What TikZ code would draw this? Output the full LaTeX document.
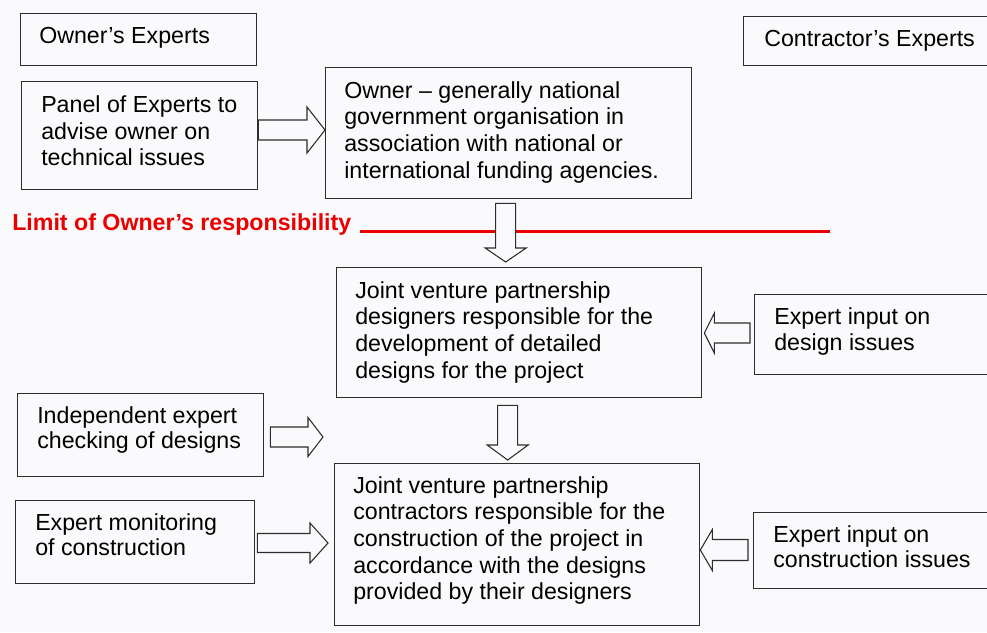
\documentclass[tikz,border=0pt]{standalone}
\usepackage{fontspec}
\setmainfont{Liberation Sans}
\usetikzlibrary{calc}
\definecolor{bg}{RGB}{250,250,252}
\definecolor{edge}{RGB}{45,45,45}
\definecolor{limitred}{RGB}{235,0,0}
\tikzset{
  box/.style={draw=edge, line width=1pt, fill=bg, anchor=north west, inner sep=0pt},
  boxat/.style n args={4}{box, minimum width={(#3-#1)*0.75pt}, minimum height={(#4-#2)*0.75pt}, at={(#1,#2)}},
  txt/.style={anchor=north west, inner sep=0pt, align=left, text=black, font=\fontsize{17.4}{20}\selectfont},
  txtb/.style={txt, font=\fontsize{17.4}{19}\selectfont},
  barrow/.style={draw=edge, line width=0.8pt, fill=bg, line join=miter},
  limitline/.style={draw=limitred, line width=2.25pt},
}
% right-pointing block arrow: start, tip, shaft half, head half, head length (px)
\newcommand{\rblock}[5]{%
  \filldraw[barrow] let \p1=(#1), \p2=(#2) in
    (\x1,{\y1+#3*0.75pt}) -- ({\x2-#5*0.75pt},{\y1+#3*0.75pt}) -- ({\x2-#5*0.75pt},{\y1+#4*0.75pt})
    -- (\x2,\y1) -- ({\x2-#5*0.75pt},{\y1-#4*0.75pt}) -- ({\x2-#5*0.75pt},{\y1-#3*0.75pt})
    -- (\x1,{\y1-#3*0.75pt}) -- cycle;}
\newcommand{\lblock}[5]{%
  \filldraw[barrow] let \p1=(#1), \p2=(#2) in
    (\x1,{\y1+#3*0.75pt}) -- ({\x2+#5*0.75pt},{\y1+#3*0.75pt}) -- ({\x2+#5*0.75pt},{\y1+#4*0.75pt})
    -- (\x2,\y1) -- ({\x2+#5*0.75pt},{\y1-#4*0.75pt}) -- ({\x2+#5*0.75pt},{\y1-#3*0.75pt})
    -- (\x1,{\y1-#3*0.75pt}) -- cycle;}
\newcommand{\dblock}[5]{%
  \filldraw[barrow] let \p1=(#1), \p2=(#2) in
    ({\x1-#3*0.75pt},\y1) -- ({\x1-#3*0.75pt},{\y2+#5*0.75pt}) -- ({\x1-#4*0.75pt},{\y2+#5*0.75pt})
    -- (\x1,\y2) -- ({\x1+#4*0.75pt},{\y2+#5*0.75pt}) -- ({\x1+#3*0.75pt},{\y2+#5*0.75pt})
    -- ({\x1+#3*0.75pt},\y1) -- cycle;}
\begin{document}
\begin{tikzpicture}[x=0.75pt, y=-0.75pt]
\useasboundingbox (0,0) rectangle (987,632);
\fill[bg] (0,0) rectangle (987,632);

% boxes
\node[boxat={20}{13}{256}{65}] (oexp) {};
\node[boxat={21}{81}{257}{189}] (panel) {};
\node[boxat={325}{67}{691}{198}] (owner) {};
\node[boxat={743}{16}{995}{65}] (cexp) {};
\node[boxat={336}{267}{701}{397}] (jvd) {};
\node[boxat={754}{294}{995}{374}] (edes) {};
\node[boxat={17}{393}{263}{476}] (indep) {};
\node[boxat={15}{500}{254}{583}] (monit) {};
\node[boxat={334}{463}{699}{625}] (jvc) {};
\node[boxat={753}{512}{995}{588}] (econ) {};

% limit of responsibility
\node[anchor=base west, inner sep=0pt, text=limitred, font=\bfseries\fontsize{17.4}{20}\selectfont] (limit) at (12,230) {Limit of Owner’s responsibility};
\coordinate (ls) at ($(limit.base east)+(8,1)$);
\coordinate (le) at (830,231);
\draw[limitline] (ls) -- (le |- ls);

% block arrows
\coordinate (a1s) at (panel.east |- 0,130);
\coordinate (a1e) at (owner.west |- 0,130);
\rblock{a1s}{a1e}{10}{23}{18}

\coordinate (a2s) at ($(owner.south)+(-3,4)$);
\coordinate (a2e) at ($(jvd.north)+(0,-5)$);
\dblock{a2s}{a2e}{10}{20.5}{14}

\coordinate (a3s) at ($(edes.west |- 0,333)+(-4,0)$);
\coordinate (a3e) at ($(jvd.east |- 0,333)+(2,0)$);
\lblock{a3s}{a3e}{10}{20}{10}

\coordinate (a4s) at ($(jvd.south)+(-11.5,7)$);
\coordinate (a4e) at ($(jvc.north)+(0,-3)$);
\dblock{a4s}{a4e}{10}{20.5}{15}

\coordinate (a5s) at ($(indep.east |- 0,437)+(6,0)$);
\coordinate (a5e) at (323,437);
\rblock{a5s}{a5e}{10}{19.5}{15}

\coordinate (a6s) at ($(monit.east |- 0,543)+(2,0)$);
\coordinate (a6e) at (328,543);
\rblock{a6s}{a6e}{9.5}{20}{18}

\coordinate (a7s) at ($(econ.west |- 0,550)+(-5,0)$);
\coordinate (a7e) at (jvc.east |- 0,550);
\lblock{a7s}{a7e}{10.5}{20.5}{12}

% texts
\node[txt] (t-oexp) at ($(oexp.north west)+(19,14)$) {Owner’s Experts};
\node[txt] (t-panel) at ($(panel.north west)+(20,14.5)$) {Panel of Experts to\\advise owner on\\technical issues};
\node[txt] (t-owner) at ($(owner.north west)+(19,14)$) {Owner – generally national\\government organisation in\\association with national or\\international funding agencies.};
\node[txt] (t-cexp) at ($(cexp.north west)+(21,14)$) {Contractor’s Experts};
\node[txt] (t-jvd) at ($(jvd.north west)+(19,14)$) {Joint venture partnership\\designers responsible for the\\development of detailed\\designs for the project};
\node[txt] (t-edes) at ($(edes.north west)+(20,13)$) {Expert input on\\design issues};
\node[txtb] (t-indep) at ($(indep.north west)+(20,13)$) {Independent expert\\checking of designs};
\node[txtb] (t-monit) at ($(monit.north west)+(20,13.5)$) {Expert monitoring\\of construction};
\node[txt] (t-jvc) at ($(jvc.north west)+(19,13)$) {Joint venture partnership\\contractors responsible for the\\construction of the project in\\accordance with the designs\\provided by their designers};
\node[txtb] (t-econ) at ($(econ.north west)+(20,13)$) {Expert input on\\construction issues};
\end{tikzpicture}
\end{document}
